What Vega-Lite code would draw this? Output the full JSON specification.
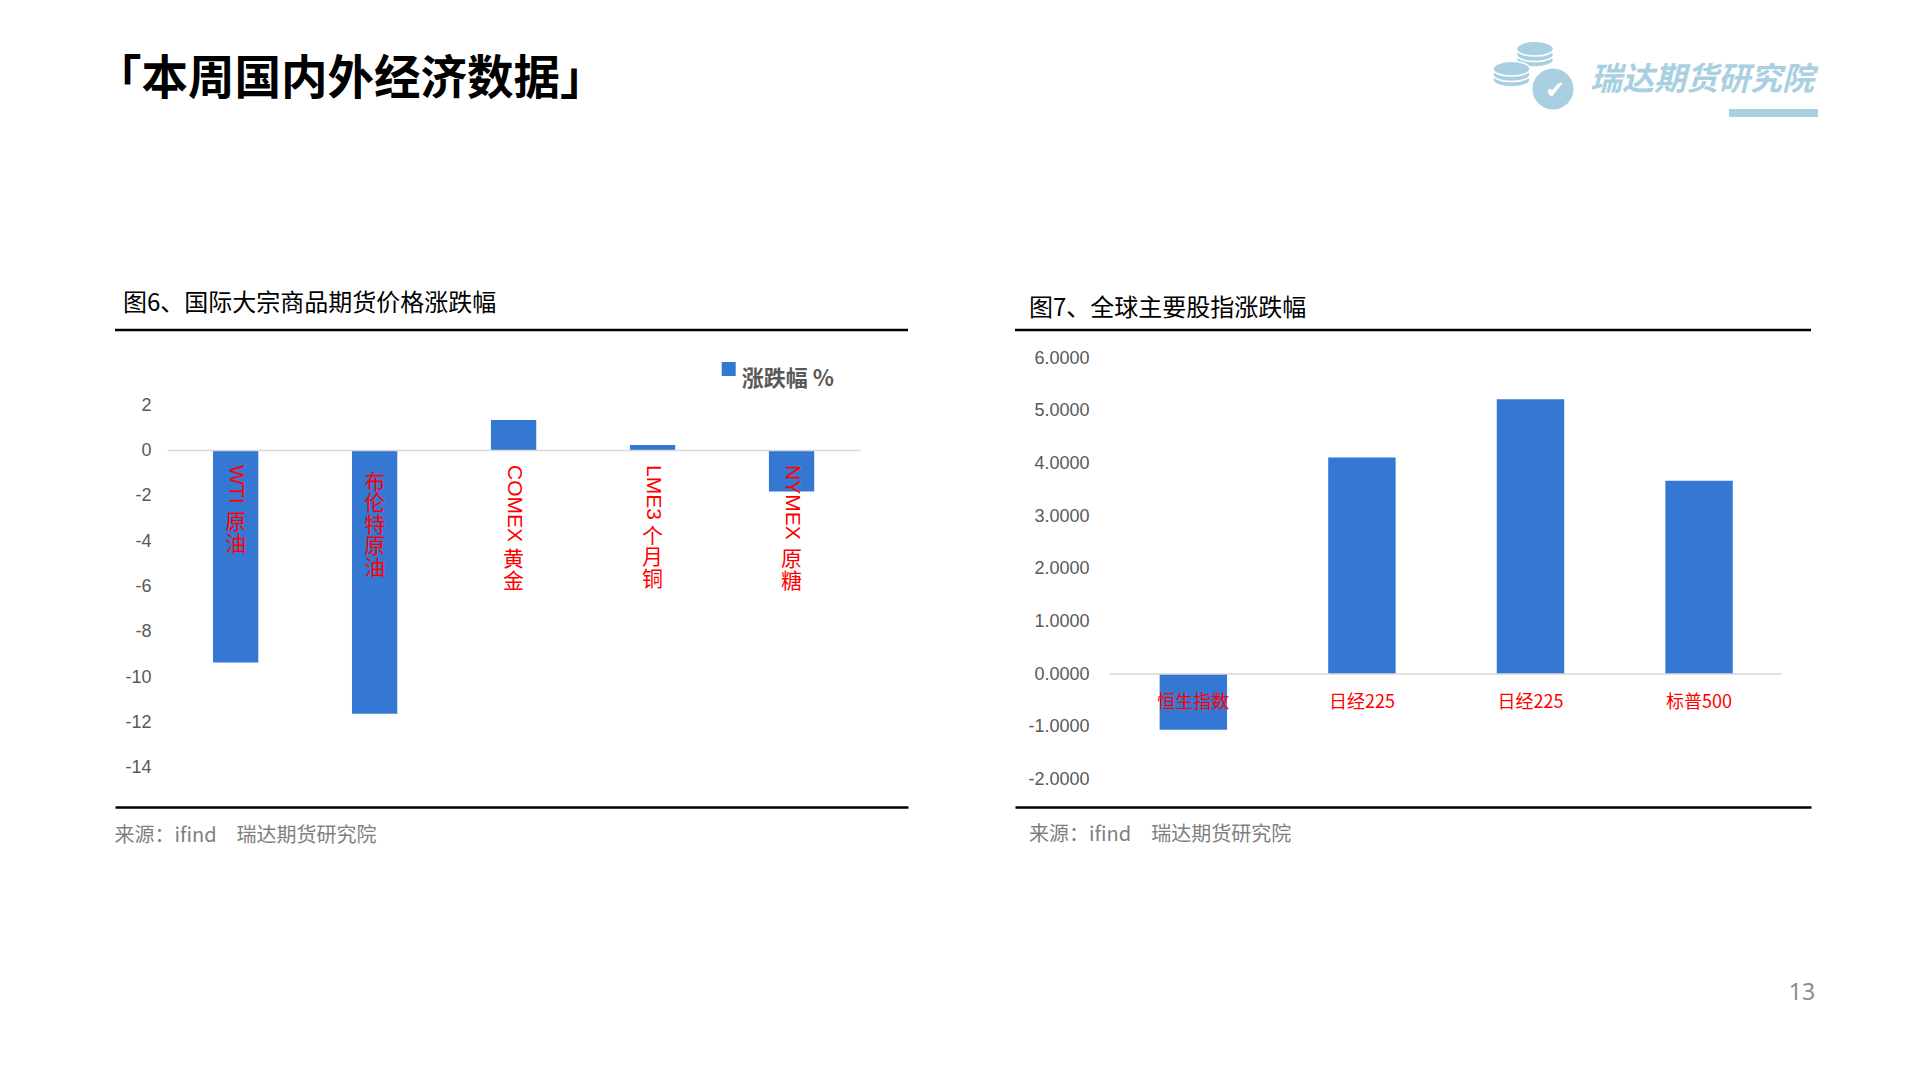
{
  "$schema": "https://vega.github.io/schema/vega-lite/v6.json",
  "padding": 0,
  "background": "white",
  "bounds": "flush",
  "spacing": 30,
  "config": {"view": {"stroke": null}, "font": "Noto Sans CJK SC"},
  "vconcat": [
    {
      "width": 1920,
      "height": 300,
      "data": {"values": [{"title": "「本周国内外经济数据」", "logo": "瑞达期货研究院", "check": "✔"}]},
      "layer": [
        {
          "mark": {"type": "text", "align": "left", "baseline": "middle", "fontSize": 46.5, "fontWeight": "bold", "font": "Noto Sans CJK SC", "color": "#000000"},
          "encoding": {
            "x": {"datum": 95, "type": "quantitative", "scale": {"domain": [0, 1920], "nice": false, "zero": false}, "axis": null},
            "y": {"datum": 79.5, "type": "quantitative", "scale": {"domain": [0, 300], "reverse": true, "nice": false, "zero": false}, "axis": null},
            "text": {"field": "title"}
          }
        },
        {
          "mark": {"type": "point", "shape": "M-1,0A1,0.4,0,1,1,1,0A1,0.4,0,1,1,-1,0Z", "size": 1369, "filled": true, "fill": "#a8d0e0", "stroke": "white", "strokeWidth": 1.5, "opacity": 1},
          "encoding": {"x": {"datum": 1535, "type": "quantitative", "axis": null}, "y": {"datum": 59.7, "type": "quantitative", "axis": null}}
        },
        {
          "mark": {"type": "point", "shape": "M-1,0A1,0.4,0,1,1,1,0A1,0.4,0,1,1,-1,0Z", "size": 1369, "filled": true, "fill": "#a8d0e0", "stroke": "white", "strokeWidth": 1.5, "opacity": 1},
          "encoding": {"x": {"datum": 1535, "type": "quantitative", "axis": null}, "y": {"datum": 54.2, "type": "quantitative", "axis": null}}
        },
        {
          "mark": {"type": "point", "shape": "M-1,0A1,0.4,0,1,1,1,0A1,0.4,0,1,1,-1,0Z", "size": 1369, "filled": true, "fill": "#a8d0e0", "stroke": "white", "strokeWidth": 1.5, "opacity": 1},
          "encoding": {"x": {"datum": 1535, "type": "quantitative", "axis": null}, "y": {"datum": 48.7, "type": "quantitative", "axis": null}}
        },
        {
          "mark": {"type": "point", "shape": "M-1,0A1,0.4,0,1,1,1,0A1,0.4,0,1,1,-1,0Z", "size": 1369, "filled": true, "fill": "#a8d0e0", "stroke": "white", "strokeWidth": 1.5, "opacity": 1},
          "encoding": {"x": {"datum": 1511.5, "type": "quantitative", "axis": null}, "y": {"datum": 79.7, "type": "quantitative", "axis": null}}
        },
        {
          "mark": {"type": "point", "shape": "M-1,0A1,0.4,0,1,1,1,0A1,0.4,0,1,1,-1,0Z", "size": 1369, "filled": true, "fill": "#a8d0e0", "stroke": "white", "strokeWidth": 1.5, "opacity": 1},
          "encoding": {"x": {"datum": 1511.5, "type": "quantitative", "axis": null}, "y": {"datum": 74.2, "type": "quantitative", "axis": null}}
        },
        {
          "mark": {"type": "point", "shape": "M-1,0A1,0.4,0,1,1,1,0A1,0.4,0,1,1,-1,0Z", "size": 1369, "filled": true, "fill": "#a8d0e0", "stroke": "white", "strokeWidth": 1.5, "opacity": 1},
          "encoding": {"x": {"datum": 1511.5, "type": "quantitative", "axis": null}, "y": {"datum": 68.7, "type": "quantitative", "axis": null}}
        },
        {
          "mark": {"type": "point", "shape": "circle", "size": 1936, "filled": true, "fill": "#a8d0e0", "stroke": "white", "strokeWidth": 3, "opacity": 1},
          "encoding": {"x": {"datum": 1553, "type": "quantitative", "axis": null}, "y": {"datum": 89, "type": "quantitative", "axis": null}}
        },
        {
          "mark": {"type": "text", "align": "center", "baseline": "middle", "fontSize": 24, "font": "DejaVu Sans", "color": "white"},
          "encoding": {"x": {"datum": 1555, "type": "quantitative", "axis": null}, "y": {"datum": 91, "type": "quantitative", "axis": null}, "text": {"field": "check"}}
        },
        {
          "mark": {"type": "text", "align": "left", "baseline": "middle", "fontSize": 32, "fontStyle": "italic", "fontWeight": "bold", "font": "Noto Sans CJK SC", "color": "#a8d0e0"},
          "encoding": {"x": {"datum": 1590, "type": "quantitative", "axis": null}, "y": {"datum": 80, "type": "quantitative", "axis": null}, "text": {"field": "logo"}}
        },
        {
          "mark": {"type": "rule", "color": "#a8d0e0", "strokeWidth": 8},
          "encoding": {"x": {"datum": 1729, "type": "quantitative", "axis": null}, "x2": {"datum": 1818}, "y": {"datum": 113, "type": "quantitative", "axis": null}}
        }
      ]
    },
    {
      "hconcat": [
        {
          "width": 8,
          "height": 477,
          "data": {"values": [{}]},
          "mark": {"type": "point", "opacity": 0}
        },
        {
          "width": 793,
          "height": 477,
          "title": {"text": "图6、国际大宗商品期货价格涨跌幅", "anchor": "start", "frame": "group", "dx": 8, "offset": 0.5, "baseline": "middle", "fontSize": 24, "fontWeight": "normal", "font": "Noto Sans CJK SC", "color": "#000000"},
          "layer": [
            {
              "data": {"values": [
                {"name": "WTI 原油", "pct": -9.35, "series": "涨跌幅 %"},
                {"name": "布伦特原油", "pct": -11.62, "series": "涨跌幅 %"},
                {"name": "COMEX 黄金", "pct": 1.35, "series": "涨跌幅 %"},
                {"name": "LME3 个月铜", "pct": 0.25, "series": "涨跌幅 %"},
                {"name": "NYMEX 原糖", "pct": -1.81, "series": "涨跌幅 %"}
              ]},
              "encoding": {
                "x": {"field": "name", "type": "nominal", "sort": null,
                  "scale": {"paddingInner": 0.674, "paddingOuter": 0.69, "align": 0.511},
                  "axis": {"labels": false, "ticks": false, "grid": false, "domain": true, "domainColor": "#000000", "domainWidth": 2.5,
                    "title": "来源：ifind　瑞达期货研究院", "titleX": -1, "titleY": 28, "titleAlign": "left", "titleAnchor": "start", "titleBaseline": "middle",
                    "titleFontSize": 20, "titleFontWeight": "normal", "titleColor": "#7f7f7f", "titleFont": "Noto Sans CJK SC"}},
                "y": {"field": "pct", "type": "quantitative",
                  "scale": {"domain": [-15.735, 5.325], "nice": false, "zero": false},
                  "axis": {"values": [-14, -12, -10, -8, -6, -4, -2, 0, 2], "title": null, "ticks": false, "domain": false, "grid": false,
                    "labelExpr": "replace(datum.label, '−', '-')",
                    "labelColor": "#595959", "labelFontSize": 18, "labelFont": "Liberation Sans", "offset": -40, "labelPadding": 4}}
              },
              "layer": [
                {
                  "mark": {"type": "bar"},
                  "encoding": {
                    "color": {"field": "series", "type": "nominal",
                      "scale": {"range": ["#3578d4"]},
                      "legend": {"orient": "none", "legendX": 717.7, "legendY": 358, "title": null, "symbolType": "square", "symbolSize": 196,
                        "symbolStrokeWidth": 0, "labelFontSize": 22, "labelFontWeight": "bold", "labelColor": "#595959", "labelFont": "Noto Sans CJK SC",
                        "labelOffset": 2, "labelBaseline": "top", "padding": 0}}
                  }
                },
                {
                  "mark": {"type": "text", "angle": 90, "align": "left", "baseline": "middle", "dx": 14.4, "fontSize": 21, "font": "Liberation Sans", "color": "#ff0000",
                    "text": {"expr": "replace(datum.name, regexp('[^A-Za-z0-9]', 'g'), '')"}},
                  "encoding": {"y": {"datum": 0}}
                },
                {
                  "mark": {"type": "text", "align": "center", "baseline": "top", "fontSize": 21, "lineHeight": 21.5, "font": "Noto Sans CJK SC", "color": "#ff0000",
                    "text": {"expr": "split(replace(datum.name, regexp('[A-Za-z0-9 ]', 'g'), ''), '')"},
                    "dy": {"expr": "21 + 15.5*length(replace(datum.name, regexp('[^A-Za-z0-9]','g'), '')) - 10*length(replace(datum.name, regexp('[^I]','g'), '')) - 4*length(replace(datum.name, regexp('[^L3]','g'), '')) + 4*length(replace(datum.name, regexp('[^W]','g'), ''))"}},
                  "encoding": {"y": {"datum": 0}}
                }
              ]
            },
            {
              "data": {"values": [{}]},
              "mark": {"type": "rule", "color": "#d9d9d9", "strokeWidth": 1.5},
              "encoding": {
                "x": {"datum": 0.0666, "type": "quantitative", "scale": {"domain": [0, 1], "nice": false, "zero": false}, "axis": null},
                "x2": {"datum": 0.9405},
                "y": {"datum": 0}
              }
            },
            {
              "data": {"values": [{}]},
              "mark": {"type": "rule", "color": "#000000", "strokeWidth": 2.5},
              "encoding": {"y": {"datum": 5.325}}
            }
          ],
          "resolve": {"scale": {"x": "independent"}, "axis": {"x": "independent"}}
        },
        {
          "width": 796,
          "height": 477,
          "title": {"text": "图7、全球主要股指涨跌幅", "anchor": "start", "frame": "group", "dx": 14, "offset": -4.4, "baseline": "middle", "fontSize": 24, "fontWeight": "normal", "font": "Noto Sans CJK SC", "color": "#000000"},
          "layer": [
            {
              "data": {"values": [
                {"id": 1, "name": "恒生指数", "pct": -1.06},
                {"id": 2, "name": "日经225", "pct": 4.11},
                {"id": 3, "name": "日经225", "pct": 5.22},
                {"id": 4, "name": "标普500", "pct": 3.67}
              ]},
              "encoding": {
                "x": {"field": "id", "type": "ordinal", "sort": null,
                  "scale": {"paddingInner": 0.6, "paddingOuter": 0.661, "align": 0.649},
                  "axis": {"labels": false, "ticks": false, "grid": false, "domain": true, "domainColor": "#000000", "domainWidth": 2.5,
                    "title": "来源：ifind　瑞达期货研究院", "titleX": 13.6, "titleY": 27, "titleAlign": "left", "titleAnchor": "start", "titleBaseline": "middle",
                    "titleFontSize": 20, "titleFontWeight": "normal", "titleColor": "#7f7f7f", "titleFont": "Noto Sans CJK SC"}},
                "y": {"field": "pct", "type": "quantitative",
                  "scale": {"domain": [-2.526, 6.534], "nice": false, "zero": false},
                  "axis": {"values": [-2, -1, 0, 1, 2, 3, 4, 5, 6], "format": ".4f", "title": null, "ticks": false, "domain": false, "grid": false,
                    "labelExpr": "replace(datum.label, '−', '-')",
                    "labelColor": "#595959", "labelFontSize": 18, "labelFont": "Liberation Sans", "offset": -78, "labelPadding": 4}}
              },
              "layer": [
                {"mark": {"type": "bar", "color": "#3578d4"}},
                {
                  "mark": {"type": "text", "align": "center", "baseline": "middle", "dy": 29, "fontSize": 18, "font": "Noto Sans CJK SC", "color": "#ff0000"},
                  "encoding": {"y": {"datum": 0}, "text": {"field": "name"}}
                }
              ]
            },
            {
              "data": {"values": [{}]},
              "mark": {"type": "rule", "color": "#d9d9d9", "strokeWidth": 1.5},
              "encoding": {
                "x": {"datum": 0.1186, "type": "quantitative", "scale": {"domain": [0, 1], "nice": false, "zero": false}, "axis": null},
                "x2": {"datum": 0.9631},
                "y": {"datum": 0}
              }
            },
            {
              "data": {"values": [{}]},
              "mark": {"type": "rule", "color": "#000000", "strokeWidth": 2.5},
              "encoding": {"y": {"datum": 6.534}}
            },
            {
              "data": {"values": [{"page": "13"}]},
              "mark": {"type": "text", "align": "center", "baseline": "middle", "fontSize": 23, "font": "Noto Sans", "color": "#8c8c8c"},
              "encoding": {
                "x": {"datum": 0.9887, "type": "quantitative", "scale": {"domain": [0, 1], "nice": false, "zero": false}, "axis": null},
                "y": {"datum": -6.06},
                "text": {"field": "page"}
              }
            }
          ],
          "resolve": {"scale": {"x": "independent"}, "axis": {"x": "independent"}}
        }
      ],
      "spacing": 107,
      "bounds": "flush"
    }
  ]
}
